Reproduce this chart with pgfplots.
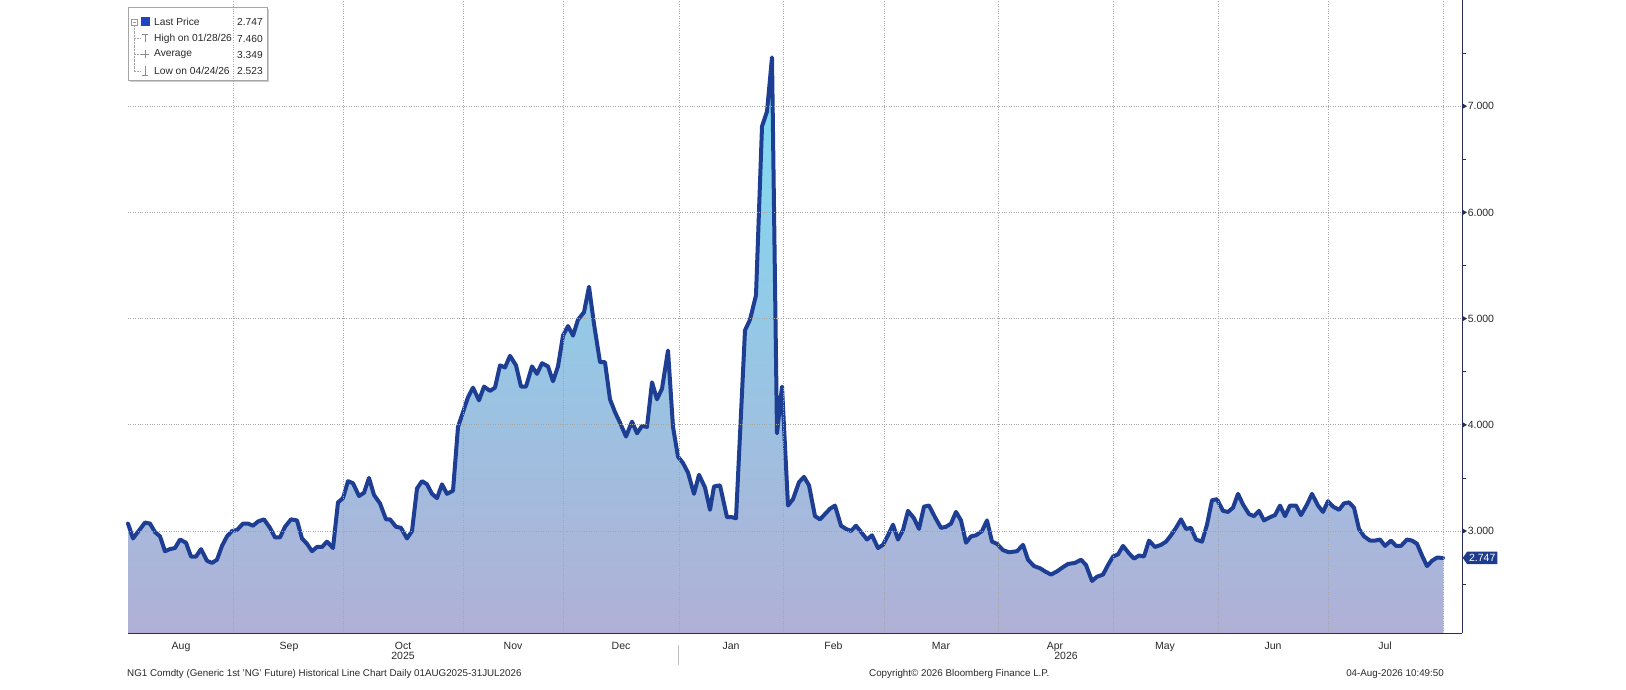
\documentclass[border=0pt]{standalone}
\usepackage{fontspec}
\setmainfont{Liberation Sans}
\usepackage{pgfplots}
\pgfplotsset{compat=1.18}
\usepgfplotslibrary{fillbetween}
\usepackage{pgfplotstable}
\usetikzlibrary{shapes.symbols}

\definecolor{linec}{RGB}{30,62,148}
\definecolor{fillbot}{RGB}{176,176,214}
\definecolor{filltop}{RGB}{124,222,244}
\definecolor{axisc}{RGB}{40,45,90}
\definecolor{gridc}{RGB}{165,165,165}
\definecolor{txt}{RGB}{40,40,40}
\definecolor{lpbox}{RGB}{30,60,140}
\definecolor{legsq}{RGB}{30,70,190}

\pgfplotstableread{
x y
128 3.07
133 2.93
145 3.08
150 3.07
155 2.99
160 2.95
165 2.81
170 2.83
175 2.84
180 2.92
186 2.89
191 2.76
196 2.76
201 2.83
207 2.72
212 2.70
217 2.73
222 2.86
227 2.95
232 3.00
237 3.01
243 3.07
248 3.07
253 3.05
258 3.09
264 3.11
270 3.03
275 2.94
280 2.94
285 3.04
291 3.11
297 3.10
302 2.93
307 2.88
312 2.81
317 2.85
322 2.85
327 2.90
333 2.84
338 3.27
343 3.31
348 3.47
353 3.45
359 3.33
364 3.36
369 3.50
374 3.34
380 3.26
386 3.11
390 3.11
396 3.04
401 3.03
407 2.93
412 3.00
417 3.40
422 3.47
427 3.44
432 3.35
437 3.31
442 3.44
447 3.35
453 3.38
458 3.98
463 4.12
468 4.26
473 4.35
479 4.23
484 4.36
490 4.32
495 4.35
500 4.56
505 4.54
510 4.65
516 4.56
521 4.36
526 4.36
532 4.55
537 4.48
542 4.58
548 4.55
553 4.41
558 4.55
563 4.84
568 4.93
573 4.84
578 4.99
584 5.06
589 5.30
594 4.95
600 4.59
605 4.59
610 4.24
615 4.12
620 4.02
626 3.89
632 4.03
637 3.92
642 3.99
647 3.98
652 4.40
657 4.24
662 4.34
668 4.70
673 3.98
678 3.70
683 3.64
688 3.55
694 3.35
699 3.53
705 3.41
710 3.20
714 3.42
720 3.43
727 3.13
732 3.13
736 3.12
745 4.89
750 4.99
756 5.22
762 6.81
767 6.95
772 7.46
777 3.92
782 4.36
788 3.24
793 3.30
799 3.46
804 3.51
809 3.43
815 3.14
820 3.11
825 3.16
830 3.21
835 3.24
841 3.05
846 3.02
851 3.00
856 3.05
862 2.98
867 2.92
872 2.96
878 2.84
883 2.87
888 2.96
893 3.06
898 2.92
903 3.01
908 3.19
914 3.12
919 3.02
924 3.23
929 3.24
935 3.13
941 3.03
946 3.04
951 3.07
956 3.18
961 3.10
966 2.89
971 2.95
976 2.96
982 3.00
987 3.10
992 2.90
997 2.88
1003 2.82
1009 2.80
1017 2.81
1023 2.87
1028 2.73
1034 2.67
1040 2.65
1045 2.62
1051 2.59
1057 2.62
1063 2.66
1068 2.69
1075 2.70
1081 2.73
1086 2.68
1092 2.53
1097 2.57
1103 2.59
1108 2.68
1113 2.76
1118 2.78
1123 2.86
1129 2.79
1134 2.74
1139 2.77
1144 2.76
1149 2.91
1155 2.85
1161 2.87
1166 2.90
1171 2.96
1176 3.03
1181 3.11
1186 3.02
1191 3.03
1196 2.92
1202 2.90
1207 3.06
1212 3.29
1217 3.30
1223 3.19
1228 3.18
1233 3.22
1238 3.35
1243 3.25
1249 3.16
1254 3.14
1259 3.19
1264 3.10
1270 3.13
1275 3.15
1280 3.24
1285 3.14
1290 3.24
1296 3.24
1301 3.15
1307 3.25
1312 3.35
1318 3.24
1323 3.18
1328 3.28
1333 3.23
1339 3.20
1344 3.26
1349 3.27
1354 3.22
1359 3.02
1364 2.95
1370 2.91
1375 2.91
1380 2.92
1385 2.86
1391 2.91
1396 2.86
1401 2.86
1407 2.92
1412 2.91
1417 2.88
1422 2.77
1427 2.67
1432 2.72
1437 2.75
1443 2.747
}\ngdata

\begin{document}
\begin{tikzpicture}[x=1pt,y=1pt]
\begin{axis}[
  at={(128pt,56pt)}, anchor=south west,
  scale only axis, width=1334pt, height=633pt,
  xmin=128, xmax=1462, ymin=2.04, ymax=8.0,
  axis x line*=bottom, axis y line*=right,
  axis line style={axisc, line width=1pt},
  axis on top,
  clip=false,
  xtick={181,289,403,513,621,731,833.5,941,1055,1165,1273,1385},
  xticklabels={Aug,Sep,Oct,Nov,Dec,Jan,Feb,Mar,Apr,May,Jun,Jul},
  xmajorgrids=false,
  major x tick style={draw=none},
  xticklabel style={anchor=base, yshift=-12pt, font=\fontsize{10.5}{12}\selectfont, text=txt},
  extra x ticks={233.7,343.7,463,563,679,783,884,998,1113,1218,1328,1443},
  extra x tick labels={},
  extra x tick style={xmajorgrids=true, major tick length=5pt, tick align=outside,
     major tick style={axisc, line width=0.8pt}},
  ytick={3,4,5,6,7},
  yticklabels={3.000,4.000,5.000,6.000,7.000},
  ymajorgrids=true,
  major y tick style={draw=none},
  minor ytick={2.5,3.5,4.5,5.5,6.5,7.5},
  minor tick length=4pt,
  minor y tick style={axisc, line width=0.8pt},
  yticklabel style={anchor=west, xshift=-2pt, font=\fontsize{10.5}{12}\selectfont, text=txt},
  major grid style={gridc, dotted, line width=0.75pt},
  tick align=outside,
]
\addplot[name path=curve, draw=none, forget plot] table[x=x,y=y] {\ngdata};
\addplot[name path=base, draw=none, forget plot] coordinates {(128,2.04) (1443,2.04)};
\addplot[bottom color=fillbot, top color=filltop, draw=none] fill between[of=curve and base];
\addplot[linec, line width=4pt, line join=round, line cap=round] table[x=x,y=y] {\ngdata};
\pgfplotsinvokeforeach{3,4,5,6,7}{
  \fill[axisc] (axis cs:1462,#1) ++(0pt,3pt) -- ++(5pt,-3pt) -- ++(-5pt,-3pt) -- cycle;
}
\node[signal, signal to=west, signal pointer angle=110, fill=lpbox, text=white,
  font=\fontsize{10.5}{12}\selectfont, inner xsep=2pt, inner ysep=2.5pt, anchor=west]
  at (axis cs:1462.5,2.747) {2.747};
\end{axis}

% legend
\draw[gray!40, line width=1.5pt] (130,607.5) -- (268.5,607.5) -- (268.5,679.5);
\draw[gray!70, line width=0.8pt] (128.5,609) rectangle (267,681.5);
\draw[gray!80] (131,664) rectangle (137,670);
\draw[gray!80] (132.5,667) -- (135.5,667);
\draw[gray!70, densely dotted] (134,664) -- (134,618);
\foreach \yy in {650.5,634.5,618} { \draw[gray!70, densely dotted] (134,\yy) -- (140,\yy); }
\fill[legsq] (140.5,663) rectangle (149.5,671.5);
\draw[gray!90, line width=0.8pt] (142,655) -- (148,655) (145,655) -- (145,646.5);
\draw[gray!90, line width=0.8pt] (141,634.5) -- (149,634.5) (145,630.5) -- (145,638.5);
\draw[gray!90, line width=0.8pt] (145,622.5) -- (145,614) (142,614) -- (148,614);
\begin{scope}[every node/.style={anchor=west, inner sep=0pt, text=txt, font=\fontsize{10.2}{12}\selectfont}]
\node at (154,667) {Last Price};
\node at (154,650.5) {High on 01/28/26};
\node at (154,634.5) {Average};
\node at (154,618) {Low on 04/24/26};
\node at (237,667) {2.747};
\node at (237,650.5) {7.460};
\node at (237,634.5) {3.349};
\node at (237,618) {2.523};
\end{scope}

% year labels and footer
\node[text=txt, font=\fontsize{10.5}{12}\selectfont] at (403,33) {2025};
\node[text=txt, font=\fontsize{10.5}{12}\selectfont] at (1066,33) {2026};
\draw[gray!50, line width=0.8pt] (678,44) -- (678,24);
\begin{scope}[every node/.style={inner sep=0pt, text=txt, font=\fontsize{9.8}{11}\selectfont}]
\node[anchor=west] at (127,15) {NG1 Comdty (Generic 1st 'NG' Future) Historical Line Chart Daily 01AUG2025-31JUL2026};
\node[anchor=west] at (869,15) {Copyright© 2026 Bloomberg Finance L.P.};
\node[anchor=east] at (1444,15) {04-Aug-2026 10:49:50};
\end{scope}
\pgfresetboundingbox
\useasboundingbox (0,0) rectangle (1626,689);
\end{tikzpicture}
\end{document}
